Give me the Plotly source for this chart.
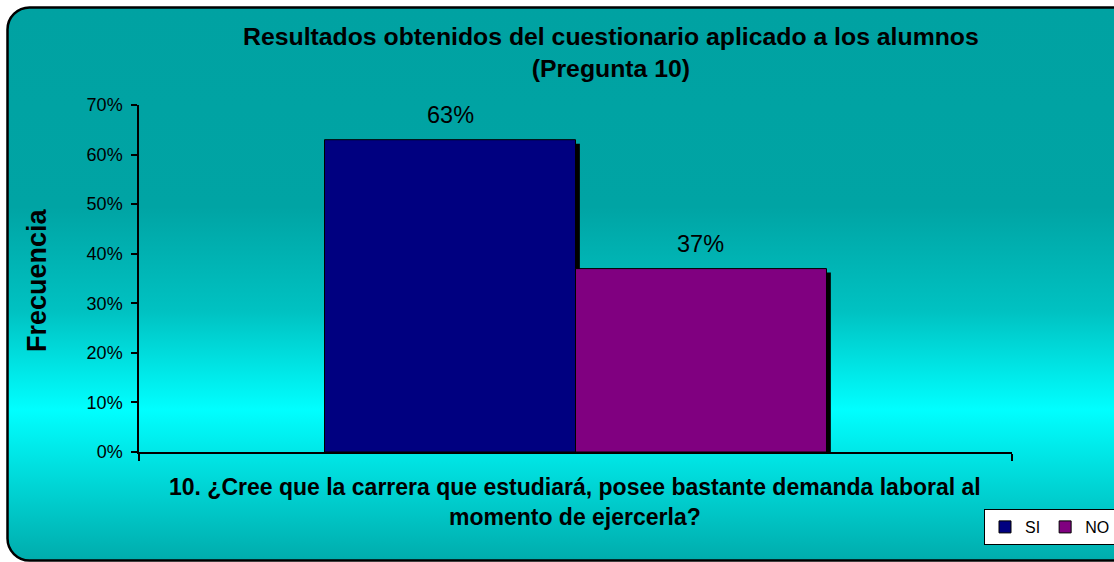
import base64
import plotly.graph_objects as go

# ---- data ----
categories = ["10"]
series_names = ["SI", "NO"]
si_values = [0.63]
no_values = [0.37]
series_colors = ["#000080", "#800080"]
y_tick_vals = [0, 0.1, 0.2, 0.3, 0.4, 0.5, 0.6, 0.7]

title_text = "Resultados obtenidos del cuestionario aplicado a los alumnos<br>(Pregunta 10)"
xtitle_text = "10. ¿Cree que la carrera que estudiará, posee bastante demanda laboral al<br>momento de ejercerla?"
ytitle_text = "Frecuencia"

FONT = "Arial, 'Liberation Sans', sans-serif"

W, H = 1114, 562
L, R, T, B = 139, 102, 105, 110
PW, PH = W - L - R, H - T - B

bar_w = 0.2875
shadow_dx = 0.005
shadow_dy = 0.008

fig = go.Figure()
series = [(series_names[0], si_values, series_colors[0], -bar_w),
          (series_names[1], no_values, series_colors[1], 0.0)]
# shadows
for name, vals, col, off in series:
    fig.add_trace(go.Bar(
        x=categories, y=[v - shadow_dy for v in vals], offset=off + shadow_dx, width=bar_w,
        marker=dict(color="black", line=dict(width=0)), showlegend=False, hoverinfo="skip"))
for name, vals, col, off in series:
    fig.add_trace(go.Bar(
        x=categories, y=vals, name=name, offset=off, width=bar_w,
        marker=dict(color=col, line=dict(color="black", width=1))))

# value labels
for name, vals, col, off in series:
    for c, v in zip(categories, vals):
        fig.add_annotation(x=off + bar_w / 2, y=v, xref="x", yref="y", text=f"{round(v*100)}%",
                           showarrow=False, yanchor="bottom", yshift=10,
                           font=dict(family=FONT, size=23.5, color="black"))

def px(xp):
    return (xp - L) / PW

def py(yp):
    return (H - B - yp) / PH

fig.add_annotation(x=px(611), y=py(52.5), xref="paper", yref="paper", text=f"<b>{title_text}</b>",
                   showarrow=False, xanchor="center", yanchor="middle",
                   font=dict(family=FONT, size=24.8, color="black"))
fig.add_annotation(x=px(575), y=py(501.5), xref="paper", yref="paper", text=f"<b>{xtitle_text}</b>",
                   showarrow=False, xanchor="center", yanchor="middle",
                   font=dict(family=FONT, size=23, color="black"))
fig.add_annotation(x=px(37), y=py(280), xref="paper", yref="paper", text=f"<b>{ytitle_text}</b>",
                   showarrow=False, xanchor="center", yanchor="middle", textangle=-90,
                   font=dict(family=FONT, size=27, color="black"))

svg = f'''<svg xmlns="http://www.w3.org/2000/svg" width="{W}" height="{H}" viewBox="0 0 {W} {H}" preserveAspectRatio="none">
<defs><linearGradient id="g" x1="0" y1="0" x2="0" y2="1">
<stop offset="0" stop-color="#00A2A2"/>
<stop offset="0.36" stop-color="#00A4A4"/>
<stop offset="0.55" stop-color="#00C2C2"/>
<stop offset="0.727" stop-color="#00FFFF"/>
<stop offset="1" stop-color="#00ACAC"/>
</linearGradient></defs>
<rect x="7.5" y="7.5" width="1130" height="553" rx="22" ry="22" fill="url(#g)" stroke="#000" stroke-width="2.5"/>
</svg>'''
src = "data:image/svg+xml;base64," + base64.b64encode(svg.encode()).decode()
fig.add_layout_image(source=src, xref="paper", yref="paper", x=px(0), y=py(0),
                     sizex=W / PW, sizey=H / PH, xanchor="left", yanchor="top",
                     sizing="stretch", layer="below")

fig.update_layout(
    width=W, height=H,
    margin=dict(l=L, r=R, t=T, b=B, autoexpand=False),
    paper_bgcolor="white", plot_bgcolor="rgba(0,0,0,0)",
    barmode="overlay",
    font=dict(family=FONT, color="black"),
    showlegend=True,
    legend=dict(orientation="h", x=px(984), y=py(509), xanchor="left", yanchor="top",
                bgcolor="white", bordercolor="black", borderwidth=1,
                font=dict(family=FONT, size=16, color="black"), itemwidth=30,
                traceorder="normal"),
    xaxis=dict(type="category", range=[-0.5, 0.5], showticklabels=False, showline=True,
               linecolor="black", linewidth=1.5, ticks="outside", tickson="boundaries",
               ticklen=7, tickcolor="black", tickwidth=1.5, showgrid=False, zeroline=False,
               fixedrange=True),
    yaxis=dict(range=[0, 0.7], tickvals=y_tick_vals, tickformat=".0%", showline=True,
               linecolor="black", linewidth=1.5, ticks="outside", ticklen=6, tickcolor="black",
               tickwidth=1.5, showgrid=False, zeroline=False, ticklabelstandoff=5,
               tickfont=dict(family=FONT, size=18, color="black")),
)

fig.write_html("out.html", config={"displayModeBar": False},
               post_script="document.body.style.margin='0';document.body.style.overflow='hidden';")
